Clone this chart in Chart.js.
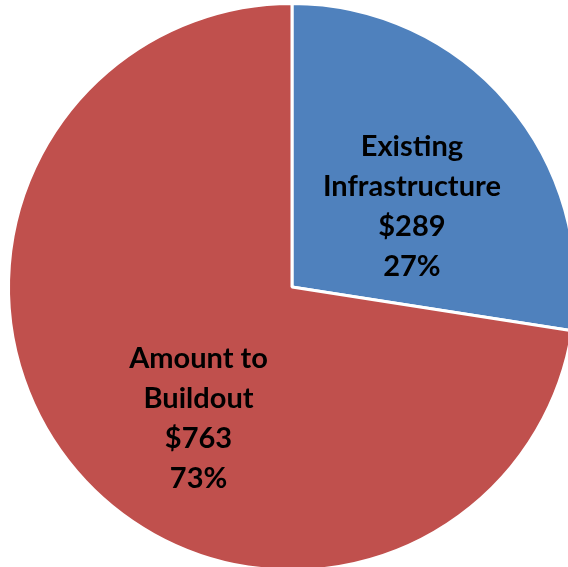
<!DOCTYPE html>
<html>
<head>
<meta charset="utf-8">
<script src="https://cdn.jsdelivr.net/npm/chart.js@4"></script>
<style>
  html, body { margin: 0; padding: 0; background: #fff; overflow: hidden; }
  #wrap { position: absolute; left: 0; top: 0; width: 600px; height: 600px; }
</style>
</head>
<body>
<div id="wrap"><canvas id="costChart" width="600" height="600"></canvas></div>
<script>
// Cost split
const categories = ['Existing Infrastructure', 'Amount to Buildout'];
const labelLines = [['Existing', 'Infrastructure'], ['Amount to', 'Buildout']];
const amounts = [289, 763];
const sliceColors = ['#4F81BD', '#C0504D'];

// where each label sits inside its slice (angle shift in degrees, fraction of radius)
const labelAnchors = [
    { shift: 6.6, frac: 0.51 },
    { shift: -14.1, frac: 0.57 }
];

const sliceLabels = {
    id: 'sliceLabels',
    afterDatasetsDraw(chart) {
        const ctx = chart.ctx;
        const meta = chart.getDatasetMeta(0);
        const total = amounts.reduce((a, b) => a + b, 0);
        ctx.save();
        ctx.font = 'bold 29px Lato, "Open Sans", sans-serif';
        ctx.fillStyle = '#000';
        ctx.textAlign = 'center';
        ctx.textBaseline = 'middle';
        meta.data.forEach((arc, i) => {
            const mid = (arc.startAngle + arc.endAngle) / 2 + labelAnchors[i].shift * Math.PI / 180;
            const r = arc.outerRadius * labelAnchors[i].frac;
            const cx = arc.x + Math.cos(mid) * r;
            const cy = arc.y + Math.sin(mid) * r;
            const lines = labelLines[i].concat(['$' + amounts[i], Math.round(amounts[i] / total * 100) + '%']);
            const lh = 40;
            lines.forEach((t, j) => {
                ctx.fillText(t, cx, cy + (j - (lines.length - 1) / 2) * lh);
            });
        });
        ctx.restore();
    }
};

new Chart(document.getElementById('costChart'), {
    type: 'pie',
    data: {
        labels: categories,
        datasets: [{
            data: amounts,
            backgroundColor: sliceColors,
            borderColor: '#fff',
            borderWidth: 3
        }]
    },
    options: {
        responsive: false,
        animation: false,
        layout: { padding: { left: 7, top: 2, right: 23, bottom: 28 } },
        plugins: {
            legend: { display: false },
            tooltip: { enabled: false }
        }
    },
    plugins: [sliceLabels]
});
</script>
</body>
</html>
